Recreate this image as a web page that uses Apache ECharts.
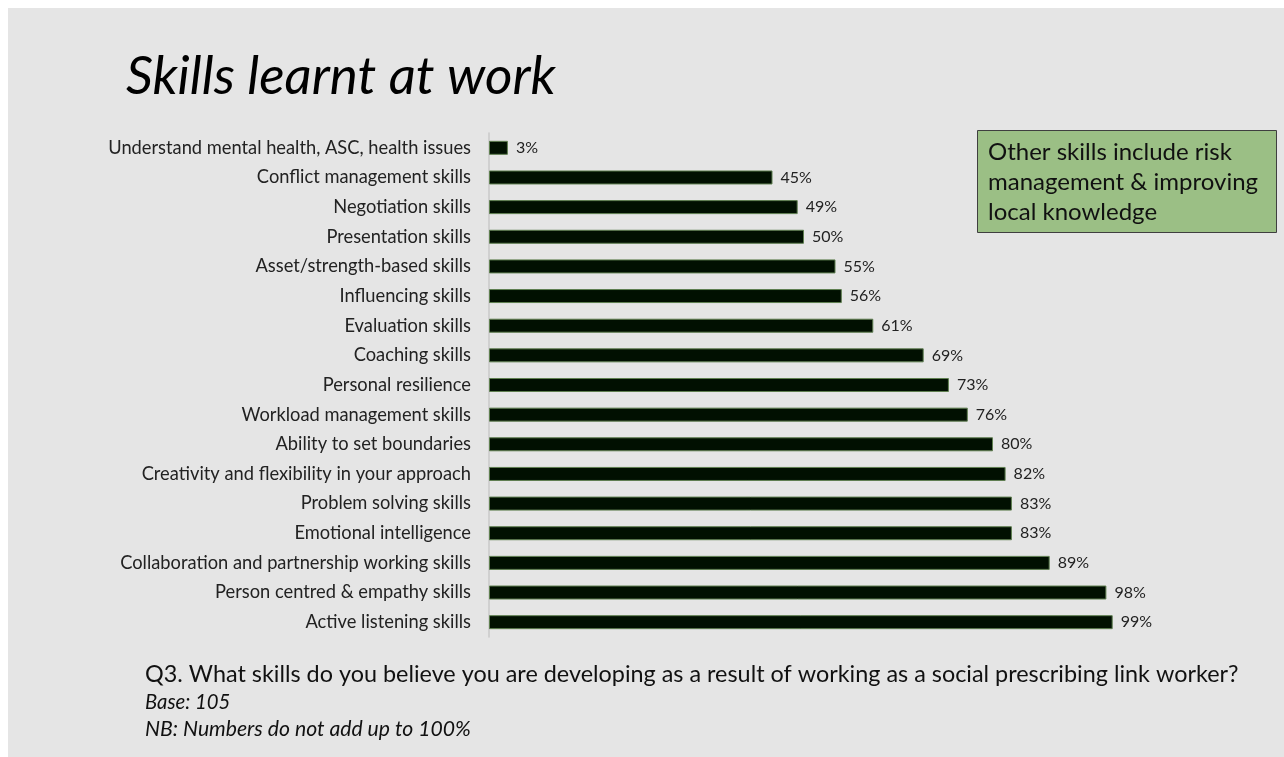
<!DOCTYPE html>
<html>
<head>
<meta charset="utf-8">
<script src="https://cdn.jsdelivr.net/npm/echarts@6/dist/echarts.min.js"></script>
<style>
  html, body { margin: 0; padding: 0; background: #fff; }
  #main { width: 1284px; height: 757px; }
</style>
</head>
<body>
<div id="main"></div>
<script>
// skills, top to bottom as in the chart
const skills = [
  'Understand mental health, ASC, health issues',
  'Conflict management skills',
  'Negotiation skills',
  'Presentation skills',
  'Asset/strength-based skills',
  'Influencing skills',
  'Evaluation skills',
  'Coaching skills',
  'Personal resilience',
  'Workload management skills',
  'Ability to set boundaries',
  'Creativity and flexibility in your approach',
  'Problem solving skills',
  'Emotional intelligence',
  'Collaboration and partnership working skills',
  'Person centred & empathy skills',
  'Active listening skills'
]
const percents = [3, 45, 49, 50, 55, 56, 61, 69, 73, 76, 80, 82, 83, 83, 89, 98, 99]

const noteLines = ['Other skills include risk', 'management & improving', 'local knowledge']
const question = 'Q3. What skills do you believe you are developing as a result of working as a social prescribing link worker?'
const baseText = 'Base: 105'
const nbText = 'NB: Numbers do not add up to 100%'

const font = 'Lato, "Open Sans", sans-serif'

const chart = echarts.init(document.getElementById('main'))

const option = {
  backgroundColor: '#ffffff',
  animation: false,
  textStyle: { fontFamily: font },
  graphic: [
    {
      type: 'rect', z: -10,
      shape: { x: 8, y: 8, width: 1276, height: 749 },
      style: { fill: '#e5e5e5' }
    },
    {
      type: 'text', left: 126, top: 50,
      style: { text: 'Skills learnt at work', font: 'italic 53px ' + font, fill: '#000' }
    },
    {
      type: 'rect',
      shape: { x: 977.5, y: 130.5, width: 299, height: 102 },
      style: { fill: '#9bbf85', stroke: '#3f3f3f', lineWidth: 1 }
    },
    {
      type: 'text', left: 988, top: 137,
      style: { text: noteLines.join('\n'), font: '24px ' + font, lineHeight: 30, fill: '#111' }
    },
    {
      type: 'text', left: 145, top: 663,
      style: { text: question, font: '23.4px ' + font, fill: '#111' }
    },
    {
      type: 'text', left: 145, top: 692,
      style: { text: baseText, font: 'italic 20.3px ' + font, fill: '#111' }
    },
    {
      type: 'text', left: 145, top: 719,
      style: { text: nbText, font: 'italic 21.2px ' + font, fill: '#111' }
    }
  ],
  grid: {
    left: 489,
    top: 133,
    width: 630,
    height: 504,
    containLabel: false
  },
  xAxis: {
    type: 'value',
    min: 0,
    max: 100,
    show: false
  },
  yAxis: {
    type: 'category',
    inverse: true,
    data: skills,
    axisTick: { show: false },
    axisLine: { lineStyle: { color: '#c8c8c8', width: 1.5 } },
    axisLabel: { color: '#222', fontSize: 18.3, margin: 18, fontFamily: font }
  },
  series: [
    {
      type: 'bar',
      data: percents,
      barWidth: 14,
      itemStyle: { color: '#011001', borderColor: '#5f7f50', borderWidth: 1 },
      label: {
        show: true,
        position: 'right',
        distance: 8,
        formatter: '{c}%',
        color: '#222',
        fontSize: 16,
        fontFamily: font
      }
    }
  ]
}

chart.setOption(option)
</script>
</body>
</html>
